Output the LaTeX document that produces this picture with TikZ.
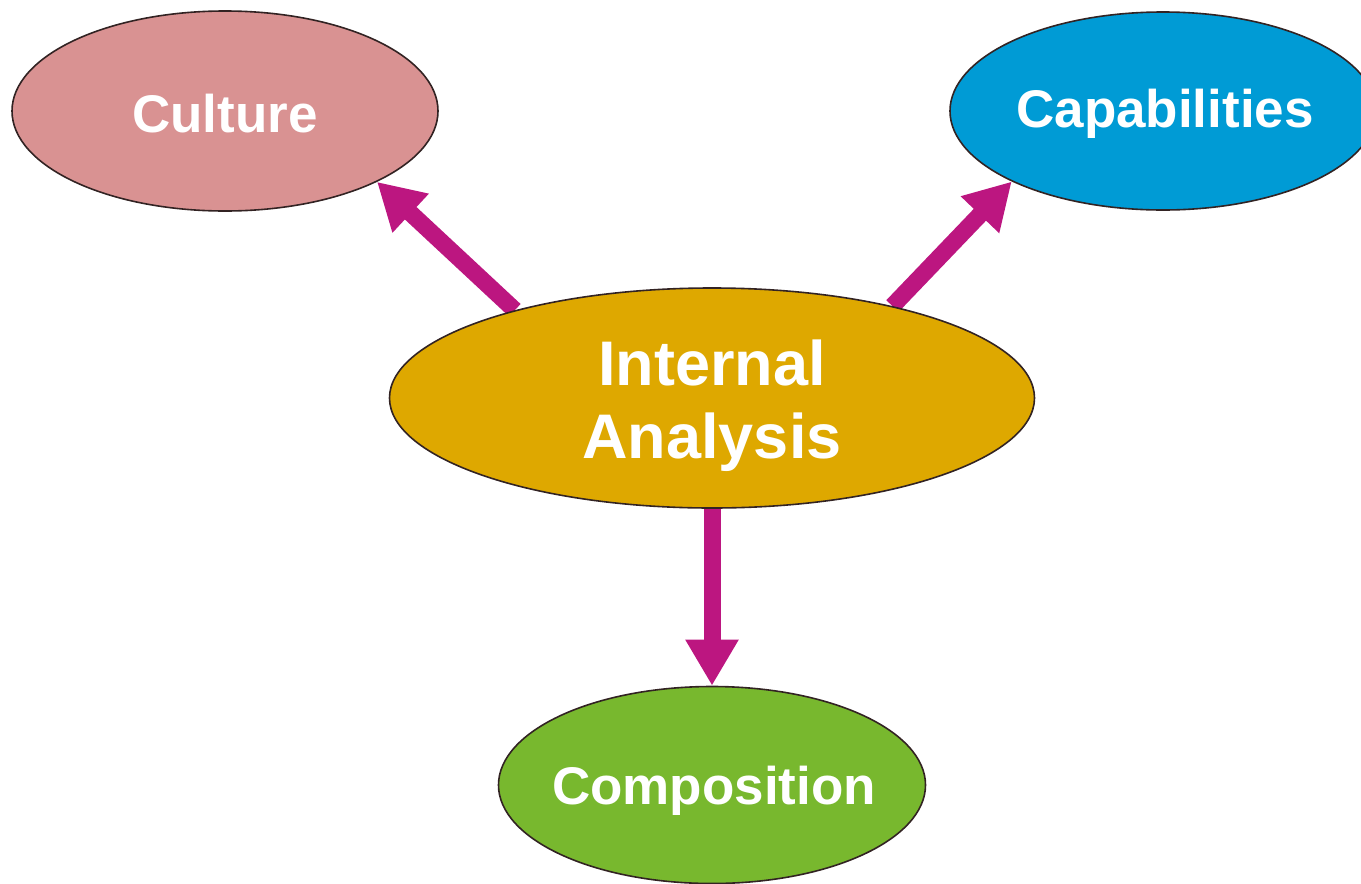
\documentclass[tikz,border=0pt]{standalone}
\usepackage{fontspec}
\setmainfont{Liberation Sans}
\usetikzlibrary{shapes.geometric,arrows.meta,backgrounds}
\definecolor{culturec}{RGB}{217,146,146}
\definecolor{capc}{RGB}{0,155,213}
\definecolor{iac}{RGB}{222,168,0}
\definecolor{compc}{RGB}{120,184,46}
\definecolor{arrowc}{RGB}{188,22,128}
\definecolor{edgec}{RGB}{50,35,35}
\tikzset{
  blob/.style={ellipse, draw=edgec, line width=1.6pt, inner sep=0pt},
  lbl/.style={text=white, font=\bfseries\fontsize{53}{60}\selectfont, align=center, inner sep=0pt},
  bigarrow/.style={draw=arrowc, line width=17pt,
    -{Triangle[length=46pt,width=50pt]}, arrowc}
}
\begin{document}
\begin{tikzpicture}[x=1pt,y=-1pt]
\useasboundingbox (0,0) rectangle (1361,884);
\node[blob, fill=culturec, minimum width=426pt, minimum height=200pt] (cult) at (225,111) {};
\node[blob, fill=capc, minimum width=426pt, minimum height=198pt] (cap) at (1163,111) {};
\node[blob, fill=iac, minimum width=645pt, minimum height=220pt] (ia) at (712,398) {};
\node[blob, fill=compc, minimum width=427pt, minimum height=197pt] (comp) at (712,785) {};
\node[lbl] (cultl) at (225,114) {Culture};
\node[lbl] (capl) at (1165,114) {Capabilities};
\node[lbl, font=\bfseries\fontsize{63}{73}\selectfont] (ial) at (712,406) {Internal\\Analysis};
\node[lbl] (compl) at (714,791) {Composition};
\begin{scope}[on background layer]
\draw[bigarrow] (ia.156) -- (cult.-25);
\draw[bigarrow] (ia.27) -- (cap.205);
\draw[bigarrow] (ia.south) -- (comp.north);
\end{scope}
\end{tikzpicture}
\end{document}
